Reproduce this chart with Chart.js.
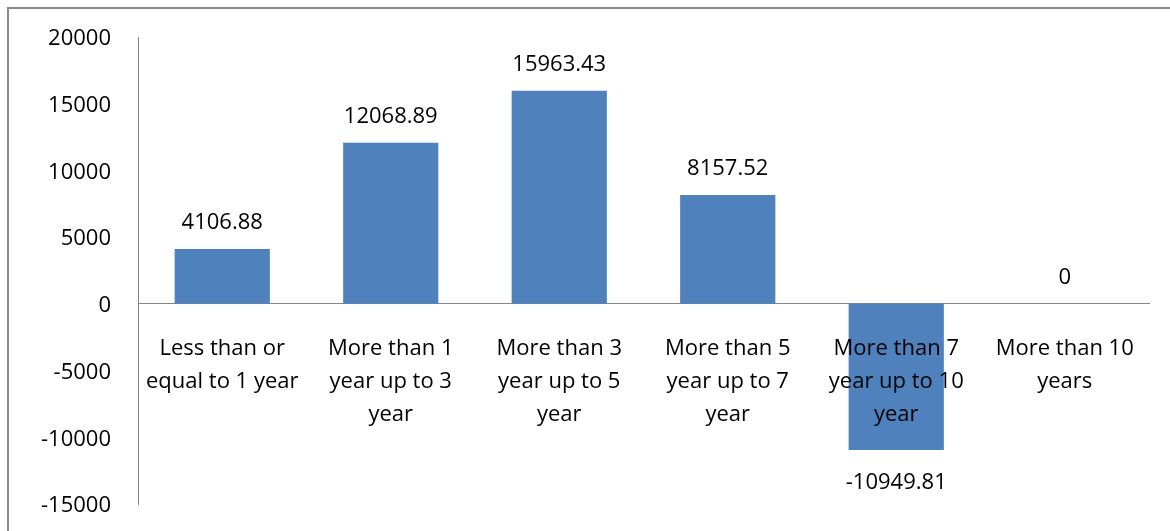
<!DOCTYPE html>
<html>
<head>
<meta charset="utf-8">
<script src="https://cdn.jsdelivr.net/npm/chart.js@4/dist/chart.umd.min.js"></script>
<style>
  html, body { margin: 0; padding: 0; background: #fff; }
  #wrap { position: relative; width: 1170px; height: 531px; }
</style>
</head>
<body>
<div id="wrap"><canvas id="chart" width="1170" height="531"></canvas></div>
<script>
// maturity buckets and their net values
const categories = [
  ['Less than or', 'equal to 1 year'],
  ['More than 1', 'year up to 3', 'year'],
  ['More than 3', 'year up to 5', 'year'],
  ['More than 5', 'year up to 7', 'year'],
  ['More than 7', 'year up to 10', 'year'],
  ['More than 10', 'years']
];
const values = [4106.88, 12068.89, 15963.43, 8157.52, -10949.81, 0];
const valueLabels = ['4106.88', '12068.89', '15963.43', '8157.52', '-10949.81', '0'];
const yTicks = [-15000, -10000, -5000, 0, 5000, 10000, 15000, 20000];

const FONT = { family: "'Open Sans', sans-serif", size: 22 };
const AXIS = '#868686';

// outer frame around the chart
const framePlugin = {
  id: 'frame',
  beforeDraw(chart) {
    const ctx = chart.ctx;
    ctx.save();
    ctx.strokeStyle = '#8a8a8a';
    ctx.lineWidth = 2;
    ctx.strokeRect(8, 8, chart.width + 20, chart.height + 20);
    ctx.restore();
  }
};

// value text above positive bars, below negative ones
const valueLabelPlugin = {
  id: 'valueLabels',
  afterDatasetsDraw(chart) {
    const ctx = chart.ctx;
    const meta = chart.getDatasetMeta(0);
    ctx.save();
    ctx.font = `${FONT.size}px ${FONT.family}`;
    ctx.fillStyle = '#000';
    ctx.textAlign = 'center';
    ctx.textBaseline = 'middle';
    meta.data.forEach((bar, i) => {
      const v = values[i];
      const y = v < 0 ? bar.y + 33 : bar.y - 26;
      ctx.fillText(valueLabels[i], bar.x, y);
    });
    ctx.restore();
  }
};

new Chart(document.getElementById('chart'), {
  type: 'bar',
  data: {
    labels: categories,
    datasets: [{
      data: values,
      backgroundColor: '#4F81BD',
      borderWidth: 0,
      barPercentage: 0.565,
      categoryPercentage: 1
    }]
  },
  options: {
    responsive: false,
    animation: false,
    layout: { padding: { left: 0, top: 37, right: 21, bottom: 27 } },
    plugins: { legend: { display: false }, tooltip: { enabled: false } },
    scales: {
      x: {
        position: { y: 0 },
        grid: { display: false, drawTicks: false },
        border: { display: true, color: AXIS, width: 1 },
        ticks: { z: 1, color: '#000', font: { ...FONT, lineHeight: 1.5 }, padding: 28, maxRotation: 0, autoSkip: false }
      },
      y: {
        min: -15000,
        max: 20000,
        afterFit(scale) {
          scale.width = 138;
          scale.paddingTop = 0;
          scale.paddingBottom = 0;
        },
        afterBuildTicks(scale) { scale.ticks = yTicks.map(v => ({ value: v })); },
        grid: { display: false, drawTicks: false },
        border: { display: true, color: AXIS, width: 1 },
        ticks: { color: '#000', font: FONT, padding: 27, labelOffset: 2, callback: v => String(v) }
      }
    }
  },
  plugins: [framePlugin, valueLabelPlugin]
});
</script>
</body>
</html>
